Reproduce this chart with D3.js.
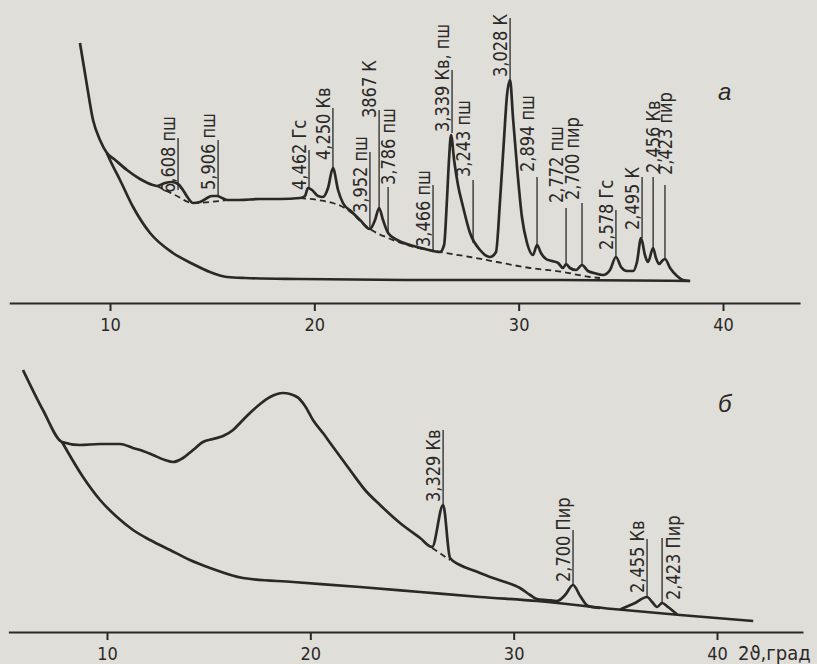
<!DOCTYPE html>
<html>
<head>
<meta charset="utf-8">
<script src="https://cdn.jsdelivr.net/npm/d3@7"></script>
<style>
  body { margin: 0; background: #e0ded8; }
  svg { display: block; }
</style>
</head>
<body>
<svg id="chart" width="817" height="664"></svg>
<script>
// tick labels of the 2theta axis
var ticks = [10, 20, 30, 40];

// panel a -- sample curve [2theta, intensity]
var sampleA = [[8.53,260],[8.83,223],[9.17,183],[9.51,163],[9.85,150],[10.20,144],[10.83,133],[11.47,124],
  [12.10,118],[12.30,117],[12.69,120],[13.03,121],[13.33,119],[13.57,113],[13.82,105],[14.06,100],[14.40,101],
  [14.75,105],[14.99,107],[15.24,107],[15.48,105],[15.73,103],[16.36,103],[17.34,104],[18.32,104],[19.30,105],
  [19.54,107],[19.69,115],[19.89,113],[20.18,107],[20.42,106],[20.67,115],[20.91,135],[21.16,113],[21.40,100],
  [21.84,91],[22.24,83],[22.72,74],[22.97,83],[23.17,95],[23.36,83],[23.61,70],[24.05,63],[24.68,58],[25.42,54],
  [26.15,51],[26.35,58],[26.49,103],[26.59,143],[26.69,168],[26.84,143],[27.03,118],[27.28,96],[27.62,70],
  [28.11,53],[28.60,46],[28.89,51],[29.09,103],[29.28,163],[29.43,208],[29.58,223],[29.72,186],[29.92,136],
  [30.16,86],[30.41,60],[30.70,48],[30.90,58],[31.09,50],[31.34,44],[31.63,42],[31.93,40],[32.17,35],[32.32,39],
  [32.51,35],[32.81,33],[33.10,38],[33.39,32],[33.69,30],[34.13,28],[34.47,33],[34.76,46],[35.01,36],[35.30,32],
  [35.60,32],[35.79,41],[35.99,65],[36.18,48],[36.33,41],[36.58,55],[36.72,45],[36.87,39],[37.02,42],[37.16,44],
  [37.41,35],[37.75,27],[38.04,23],[38.39,22]];

// panel a -- blank (holder) curve
var blankA = [[9.85,150],[10.00,143],[10.49,123],[11.13,96],[11.96,70],[13.08,50],[14.06,39],[14.89,31],
  [15.73,26],[16.61,25],[19.30,24],[25.17,23],[32.02,23],[38.39,22]];

// panel a -- dashed background under the peaks
var dashA1 = [[12.30,117],[13.18,108],[14.06,100],[14.89,101],[15.73,103]];
var dashA2 = [[19.30,105],[20.18,103],[20.91,100],[21.40,96],[21.84,90],[22.24,82],[22.72,74],[23.61,65],
  [24.68,57],[26.15,51],[27.62,46],[28.94,41],[30.56,35],[32.17,31],[33.49,26],[33.98,25]];

// panel a -- peak labels: text, 2theta, line from, line to, text start (intensity)
var peaksA = [
  ["6,608 пш", 13.33, 113, 165, 110],
  ["5,906 пш", 15.29, 108, 163, 113],
  ["4,462 Гс", 19.74, 115, 153, 113],
  ["4,250 Кв", 20.91, 135, 195, 143],
  ["3,952 пш", 22.72, 73, 151, 90],
  ["3867 К", 23.17, 95, 193, 185],
  ["3,786 пш", 23.61, 70, 116, 118],
  ["3,466 пш", 25.81, 53, 118, 56],
  ["3,339 Кв, пш", 26.74, 170, 233, 171],
  ["3,243 пш", 27.77, 60, 123, 126],
  ["3,028 К", 29.58, 223, 285, 226],
  ["2,894 пш", 30.90, 58, 126, 131],
  ["2,772 пш", 32.32, 40, 95, 100],
  ["2,700 пир", 33.10, 38, 100, 103],
  ["2,578 Гс", 34.76, 46, 93, 53],
  ["2,495 К", 36.04, 65, 126, 73],
  ["2,456 Кв", 36.58, 55, 126, 130],
  ["2,423 пир", 37.16, 43, 118, 128]
];

// panel b -- sample curve
var sampleB = [[5.87,262],[6.85,222],[7.79,190],[8.67,187],[9.66,188],[10.64,188],[11.28,184],[11.77,181],
  [12.26,177],[12.85,172],[13.25,170],[13.74,174],[14.23,182],[14.72,190],[15.21,193],[15.71,196],[16.20,202],
  [16.59,210],[17.03,219],[17.53,228],[18.02,235],[18.66,239],[19.35,235],[19.74,226],[20.13,212],[20.62,199],
  [21.12,185],[21.95,162],[22.69,142],[23.43,127],[24.41,109],[25.40,94],[25.99,85],[26.53,127],[26.87,74],
  [27.36,67],[28.10,61],[28.84,55],[29.58,50],[30.31,44],[30.81,37],[31.15,33],[31.64,32],[32.13,31],
  [32.53,37],[32.92,47],[33.27,36],[33.66,26],[34.25,24]];

// panel b -- blank curve
var blankB = [[7.79,190],[8.82,155],[9.66,132],[10.49,115],[11.28,102],[12.12,92],[13.10,82],[14.08,72],
  [15.07,64],[16.69,54],[19.15,50],[22.44,45],[25.40,40],[28.35,35],[31.15,31],[34.89,23],[38.18,17],[41.78,11]];

// panel b -- doublet on the blank curve and dashed background
var doubletB = [[35.23,22.5],[35.97,29],[36.56,35],[36.81,30],[37.05,25],[37.30,29],[37.59,25],[38.04,17.5]];
var dashB = [[25.99,84],[26.87,72]];

var peaksB = [
  ["3,329 Кв", 26.53, 127, 202, 130],
  ["2,700 Пир", 32.92, 47, 102, 50],
  ["2,455 Кв", 36.56, 34, 93, 39],
  ["2,423 Пир", 37.30, 29, 94, 32]
];

// labels drawn beside or over their line instead of to the left
var centred = ["3,786 пш", "2,456 Кв", "2,423 пир"];
var onRight = ["2,423 Пир"];

var FONT = "'DejaVu Sans Condensed', 'DejaVu Sans', sans-serif";
var INK = "#2b2927";

var svg = d3.select("#chart");

function drawPanel(p) {
    var g = svg.append("g");
    var line = d3.line()
        .x(function (d) { return p.x(d[0]); })
        .y(function (d) { return p.y(d[1]); })
        .curve(d3.curveMonotoneX);

    // axis, line runs past the ticks
    var axScale = p.x.copy().domain(p.axisExtent).range(p.axisExtent.map(p.x));
    var ax = g.append("g")
        .attr("transform", "translate(0," + p.y(0) + ")")
        .call(d3.axisBottom(axScale).tickValues(ticks).tickSize(8).tickSizeOuter(0).tickPadding(7));
    ax.select(".domain").attr("stroke", INK).attr("stroke-width", 2);
    ax.selectAll(".tick line").attr("stroke", INK).attr("stroke-width", 2);
    ax.selectAll(".tick text")
        .attr("fill", INK)
        .attr("font-family", FONT)
        .attr("font-size", 18);

    p.curves.forEach(function (c) {
        g.append("path")
            .attr("d", line(c.data))
            .attr("fill", "none")
            .attr("stroke", INK)
            .attr("stroke-width", c.dashed ? 1.8 : 2.7)
            .attr("stroke-dasharray", c.dashed ? "6,4" : null)
            .attr("stroke-linejoin", "round");
    });

    var marks = g.selectAll(".peak").data(p.peaks).enter().append("g").attr("class", "peak");
    marks.append("line")
        .attr("x1", function (d) { return p.x(d[1]); })
        .attr("x2", function (d) { return p.x(d[1]); })
        .attr("y1", function (d) { return p.y(d[2]); })
        .attr("y2", function (d) { return p.y(d[3]); })
        .attr("stroke", INK)
        .attr("stroke-width", 1.3);
    // rotated labels, a little squeezed along the text like the drawing type
    marks.append("text")
        .attr("transform", function (d) {
            var lx = p.x(d[1]);
            var tx = lx - 3;
            if (centred.indexOf(d[0]) >= 0) tx = lx + 7;
            if (onRight.indexOf(d[0]) >= 0) tx = lx + 18;
            return "translate(" + tx + "," + p.y(d[4]) + ") rotate(-90) scale(0.9,1)";
        })
        .attr("font-family", FONT)
        .attr("font-size", 20)
        .attr("fill", INK)
        .text(function (d) { return d[0]; });

    g.append("text")
        .attr("x", p.tag[1]).attr("y", p.tag[2])
        .attr("font-family", "'Liberation Sans', sans-serif")
        .attr("font-style", "italic")
        .attr("font-size", 24)
        .attr("fill", INK)
        .text(p.tag[0]);
    return g;
}

var xA = d3.scaleLinear().domain([10, 40]).range([110, 723]);
var yA = d3.scaleLinear().domain([0, 300]).range([303, 3]);
drawPanel({
    x: xA, y: yA, axisExtent: [5.07, 43.77],
    curves: [{data: sampleA}, {data: blankA}, {data: dashA1, dashed: true}, {data: dashA2, dashed: true}],
    peaks: peaksA,
    tag: ["а", 718, 100]
});

var xB = d3.scaleLinear().domain([10, 40]).range([107, 717]);
var yB = d3.scaleLinear().domain([0, 300]).range([632, 332]);
var gB = drawPanel({
    x: xB, y: yB, axisExtent: [5.15, 44.23],
    curves: [{data: sampleB}, {data: blankB}, {data: doubletB}, {data: dashB, dashed: true}],
    peaks: peaksB,
    tag: ["б", 718, 412]
});

gB.append("text")
    .attr("x", 738).attr("y", 660)
    .attr("font-family", FONT)
    .attr("font-size", 20)
    .attr("fill", INK)
    .text("2ϑ,град");
</script>
</body>
</html>
